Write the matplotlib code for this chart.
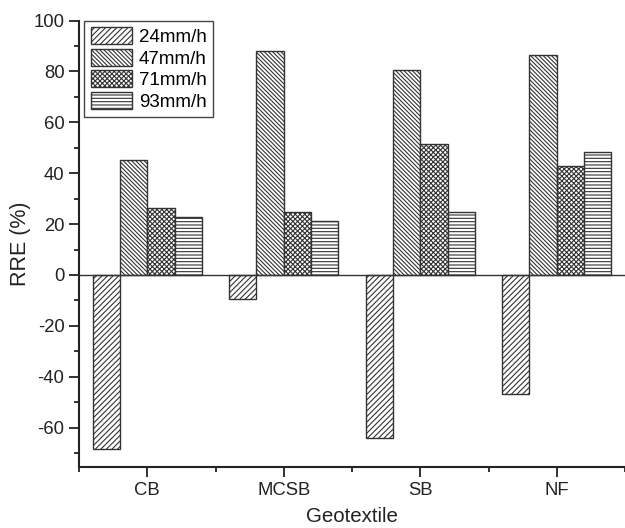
import matplotlib
matplotlib.use("Agg")
import matplotlib.pyplot as plt
import numpy as np
from matplotlib.ticker import MultipleLocator

plt.rcParams["font.family"] = ["Liberation Sans", "DejaVu Sans"]
plt.rcParams["axes.unicode_minus"] = False
plt.rcParams["hatch.linewidth"] = 0.8

geotextiles = ["CB", "MCSB", "SB", "NF"]
rates = ["24mm/h", "47mm/h", "71mm/h", "93mm/h"]
rre_24 = [-68.4, -9.5, -64.1, -46.7]
rre_47 = [45.1, 88.0, 80.4, 86.3]
rre_71 = [26.5, 24.8, 51.6, 42.9]
rre_93 = [22.6, 21.3, 24.8, 48.4]

series = [rre_24, rre_47, rre_71, rre_93]
hatches = ["//////", "\\\\\\\\\\\\\\\\", "xxxxxxx", "-----"]
edge = "#333333"

fig = plt.figure(figsize=(6.25, 5.28), dpi=100)
ax = fig.add_axes([0.1264, 0.1155, 0.8736, 0.8455])

x = np.arange(len(geotextiles))
width = 0.2
for i, (vals, lab, h) in enumerate(zip(series, rates, hatches)):
    ax.bar(x + (i - 1.5) * width, vals, width, label=lab, color="white",
           edgecolor=edge, linewidth=1.0, hatch=h)

ax.axhline(0, color=edge, linewidth=1.0, zorder=3)

ax.set_xlim(-0.5, 3.5)
ax.set_ylim(-75.5, 100)
ax.set_xticks(x)
ax.set_xticklabels(geotextiles)
ax.xaxis.set_minor_locator(MultipleLocator(0.5))
ax.yaxis.set_major_locator(MultipleLocator(20))
ax.yaxis.set_minor_locator(MultipleLocator(10))

for side in ("top", "right"):
    ax.spines[side].set_visible(False)
for side in ("left", "bottom"):
    ax.spines[side].set_linewidth(1.5)
    ax.spines[side].set_color("#222222")

ax.tick_params(which="major", direction="out", length=7, width=1.3,
               labelsize=13.3, colors="#222222")
ax.tick_params(which="minor", direction="out", length=3.5, width=1.3,
               colors="#222222")

ax.set_xlabel("Geotextile", fontsize=14.8, color="#222222", labelpad=6)
ax.set_ylabel("RRE (%)", fontsize=15.5, color="#222222", labelpad=2)

leg = ax.legend(loc="upper left", bbox_to_anchor=(0.01, 1.0), borderaxespad=0,
                fontsize=13.5, handlelength=2.2, handleheight=1.0,
                labelspacing=0.15, handletextpad=0.35, borderpad=0.35,
                fancybox=False, framealpha=1)
leg.get_frame().set_edgecolor("#444444")
leg.get_frame().set_linewidth(1.0)

fig.savefig("out.png", dpi=100)
